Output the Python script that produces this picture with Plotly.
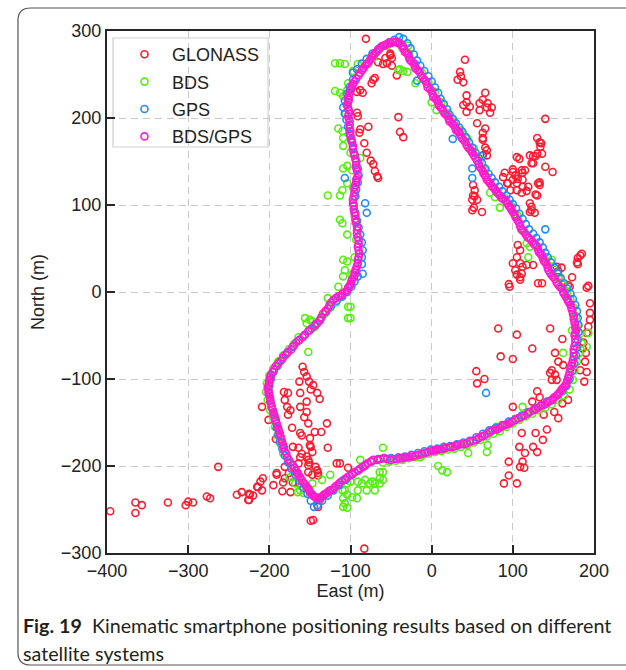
import plotly.graph_objects as go

# ---- positioning results, East/North in metres ----
glonass_en = [
    (-81, 291), (-66, 264), (-60, 262), (-57, 269), (-51, 272), (-49, 269), (-43, 249), (-51, 274),
    (-55, 263), (-49, 260), (-70, 246), (-74, 240), (-72, 244), (-85, 229), (-88, 232), (-92, 230),
    (-92, 206), (-91, 202), (-88, 187), (-89, 183), (-78, 190), (-83, 171), (-80, 160), (-75, 151),
    (-72, 147), (-70, 139), (-67, 133), (-66, 131), (-41, 201), (-39, 184), (-35, 178),
    (41, 267), (35, 253), (36, 248), (32, 244), (39, 241), (43, 226), (43, 218), (39, 215), (47, 213),
    (43, 207), (66, 229), (63, 221), (59, 217), (69, 217), (68, 212), (59, 209), (74, 212), (72, 206),
    (56, 194), (66, 188), (63, 183), (63, 177), (68, 163), (63, 157), (63, 175), (66, 166), (68, 157),
    (140, 199), (130, 177), (133, 172), (134, 167), (125, 156), (128, 156), (136, 159), (125, 148),
    (140, 144), (149, 138), (133, 126), (133, 123), (128, 112), (105, 155), (108, 153), (121, 157),
    (130, 159), (135, 171), (123, 148), (115, 140), (100, 141), (111, 140), (90, 137), (88, 132),
    (100, 129), (93, 125), (105, 125), (112, 121), (105, 117), (111, 114), (119, 121), (117, 116),
    (97, 117), (94, 125), (112, 129), (112, 137), (106, 130), (103, 134), (100, 138), (131, 125),
    (130, 111), (121, 102), (123, 98), (121, 92), (127, 91), (123, 94),
    (51, 123), (53, 117), (51, 111), (53, 110), (50, 106), (56, 106), (50, 94), (52, 97), (62, 92),
    (106, 54), (109, 48), (105, 40), (100, 33), (109, 33), (112, 29), (103, 25), (105, 20), (109, 17),
    (111, 21), (109, 14), (125, 31), (117, 31), (96, 6), (95, 9), (131, 10), (136, 10),
    (183, 42), (180, 39), (179, 34), (185, 44), (180, 32), (173, 17), (170, 6), (168, 8), (160, 28),
    (154, 29), (156, 24), (156, 17), (191, 5), (193, 7), (195, -13), (195, -24), (195, -32),
    (82, -42), (105, -49), (146, -42), (124, -65), (85, -74), (100, -77), (55, -91), (56, -105),
    (65, -100), (161, -54), (152, -70), (156, -80), (162, -84), (148, -90), (146, -93), (152, -95),
    (148, -101), (154, -101), (130, -114), (124, -126), (133, -121), (100, -132), (138, -141),
    (151, -138), (156, -145), (161, -128), (168, -124), (111, -162), (128, -162), (142, -158),
    (137, -170), (125, -178), (130, -184), (115, -185), (108, -178), (95, -195), (112, -195),
    (109, -201), (114, -202), (95, -211), (89, -220), (105, -220), (191, -47), (189, -80), (191, -92),
    (188, -103), (183, -90), (186, -65), (190, -70), (187, -58), (193, -40),
    (-396, -252), (-365, -242), (-365, -254), (-357, -245), (-325, -242), (-303, -245), (-300, -241),
    (-294, -242), (-277, -235), (-273, -237), (-263, -201), (-240, -233), (-234, -230), (-225, -232),
    (-225, -239), (-220, -234), (-214, -224), (-211, -218), (-208, -214), (-195, -222), (-191, -210),
    (-184, -229), (-209, -132), (-201, -147), (-192, -169), (-182, -115), (-177, -116), (-181, -124),
    (-178, -132), (-174, -136), (-177, -141), (-162, -116), (-163, -103), (-157, -92), (-154, -97),
    (-159, -86), (-151, -103), (-149, -112), (-146, -107), (-141, -116), (-138, -123), (-162, -132),
    (-154, -126), (-154, -138), (-157, -144), (-172, -156), (-162, -162), (-152, -151), (-160, -165),
    (-150, -168), (-144, -161), (-136, -161), (-129, -151), (-128, -179), (-149, -178), (-147, -184),
    (-164, -179), (-171, -178), (-162, -190), (-152, -193), (-151, -196), (-152, -199), (-143, -201),
    (-141, -205), (-140, -208), (-147, -210), (-176, -208), (-181, -214), (-171, -219), (-163, -220),
    (-174, -230), (-117, -197), (-113, -197), (-103, -202), (-149, -263), (-146, -262), (-83, -295),
    (-140, -247), (-138, -239), (-150, -176), (-160, -186), (-154, -189), (-172, -199), (-164, -197),
    (-152, -207), (-166, -208), (-181, -201), (-191, -208), (-183, -219), (-209, -228), (-215, -224),
    (-224, -233), (-226, -239), (-140, -211),
]

bds_en = [
    (-29, 283), (-55, 283), (-72, 269), (-78, 262), (-86, 263), (-91, 262), (-97, 254), (-107, 262),
    (-113, 263), (-119, 263), (-39, 256), (-35, 254), (-41, 255), (-30, 253), (-20, 240), (0, 218),
    (6, 209), (-119, 231), (-113, 229), (-109, 225), (-104, 232), (-103, 240),
    (-36, 280), (-28, 274), (-20, 262), (-12, 252), (-4, 241), (4, 230), (12, 218), (20, 206),
    (28, 196), (36, 186), (44, 176), (52, 165), (60, 152), (66, 140), (72, 114), (78, 109), (84, 97),
    (72, 125), (90, 108), (98, 99), (106, 88), (111, 71), (117, 56), (121, 52), (119, 40), (126, 56),
    (134, 44), (140, 36), (148, 37), (150, 26), (156, 16), (162, 8), (167, 0), (171, -8), (175, -18),
    (178, -28), (180, -38), (183, -48), (185, -59), (191, -63), (193, -47), (173, -44), (182, -70),
    (179, -80), (176, -90), (174, -101), (162, -70), (170, -112), (163, -119), (156, -124),
    (148, -129), (140, -133), (132, -136), (124, -140), (112, -132), (116, -143), (108, -147),
    (100, -151), (92, -155), (80, -155), (84, -160), (76, -163), (68, -166), (69, -176), (68, -184),
    (60, -170), (52, -173), (45, -185), (44, -176), (36, -178), (28, -180), (20, -181), (19, -207),
    (13, -205), (8, -200), (12, -183), (4, -184), (-4, -186), (-12, -188), (-14, -190), (-20, -190),
    (-28, -191), (-36, -193), (-44, -194), (-52, -195), (-60, -179), (-60, -196), (-60, -207),
    (-64, -207), (-60, -216), (-64, -214), (-64, -220), (-70, -220), (-70, -228), (-73, -218),
    (-76, -220), (-80, -228), (-82, -216), (-86, -220), (-88, -193), (-91, -218), (-91, -228),
    (-92, -237), (-98, -236), (-100, -218), (-104, -220), (-104, -233), (-107, -228), (-107, -243),
    (-104, -248), (-109, -237), (-109, -247), (-110, -228), (-125, -210), (-135, -216), (-147, -220),
    (-158, -231), (-162, -228), (-165, -230), (-168, -220), (-175, -213), (-183, -185), (-172, -200),
    (-186, -175), (-190, -165), (-193, -155), (-195, -144), (-199, -136), (-202, -124), (-204, -115),
    (-203, -105), (-200, -96), (-195, -88), (-189, -80), (-183, -73), (-152, -69), (-176, -66),
    (-170, -60), (-164, -52), (-156, -30), (-154, -36), (-150, -32), (-147, -34), (-144, -40),
    (-138, -32), (-132, -25), (-128, -7), (-125, -18), (-118, -12), (-115, 6), (-112, -6),
    (-103, -17), (-103, -30), (-100, -17), (-100, -30), (-109, 18), (-107, 25), (-104, 35),
    (-109, 37), (-104, 66), (-110, 79), (-113, 83), (-128, 111), (-113, 111), (-110, 117),
    (-104, 145), (-109, 142), (-88, 154), (-109, 168), (-109, 177), (-110, 185), (-115, 188),
    (-100, 160), (-98, 140), (-97, 120), (-96, 100), (-94, 80), (-93, 60), (-95, 40), (-98, 20),
    (-104, 125), (-106, 205), (-105, 215),
]

gps_en = [
    (-40, 293), (-35, 291), (-30, 286), (-26, 280), (-22, 273), (-18, 266), (-14, 260), (-9, 254),
    (-4, 248), (0, 242), (4, 235), (8, 229), (11, 222), (15, 216), (19, 210), (22, 204), (26, 199),
    (30, 194), (34, 189), (38, 184), (42, 178), (46, 172), (50, 166), (54, 160), (58, 154), (62, 148),
    (66, 142), (70, 136), (74, 131), (78, 126), (83, 121), (87, 116), (92, 111), (96, 106), (100, 101),
    (104, 96), (108, 90), (112, 84), (116, 78), (120, 72), (125, 67), (129, 62), (133, 57), (137, 51),
    (140, 45), (143, 40), (147, 34), (151, 28), (155, 22), (159, 16), (163, 10), (167, 4), (171, -2),
    (174, -8), (177, -15), (179, -22), (180, -30), (181, -38), (181, -46), (180, -55), (179, -64),
    (178, -73), (176, -82), (173, -91), (170, -100), (166, -108), (161, -114), (155, -119),
    (149, -123), (142, -126), (135, -130), (127, -134), (119, -138), (111, -142), (103, -146),
    (95, -149), (87, -153), (79, -156), (71, -159), (63, -163), (55, -167), (47, -171), (39, -173),
    (31, -175), (23, -177), (15, -178), (7, -180), (-1, -181), (-9, -183), (-17, -185), (-25, -187),
    (-33, -189), (-41, -190), (-50, -191), (-58, -191), (-66, -192), (-74, -195), (-82, -200),
    (-90, -205), (-98, -210), (-106, -216), (-114, -222), (-121, -228), (-128, -234), (-135, -240),
    (-141, -245), (-145, -247), (-149, -240), (-153, -232), (-158, -225), (-163, -217), (-168, -210),
    (-173, -203), (-177, -196), (-181, -188), (-184, -180), (-187, -172), (-189, -164), (-191, -156),
    (-193, -148), (-195, -140), (-197, -132), (-199, -124), (-200, -116), (-200, -108), (-198, -100),
    (-195, -92), (-190, -85), (-184, -77), (-178, -70), (-171, -63), (-164, -56), (-157, -50),
    (-150, -44), (-143, -37), (-136, -30), (-130, -23), (-124, -16), (-117, -10), (-110, -5),
    (-104, 0), (-99, 6), (-95, 12), (-91, 18), (-85, 21), (-86, 32), (-86, 40), (-85, 48), (-86, 57),
    (-88, 66), (-90, 74), (-92, 82), (-94, 91), (-80, 91), (-82, 102), (-94, 110), (-93, 118),
    (-91, 126), (-107, 131), (-90, 134), (-91, 142), (-93, 150), (-95, 158), (-97, 166), (-99, 174),
    (-101, 182), (-103, 190), (-105, 198), (-107, 205), (-109, 212), (-107, 220), (-104, 228),
    (-101, 236), (-97, 244), (-97, 252), (-92, 256), (-86, 262), (-80, 268), (-73, 274), (-66, 279),
    (-59, 283), (-52, 287), (-46, 290),
    (67, -116), (140, 72), (50, 131), (50, 142), (62, 156), (26, 176), (-18, 243),
]

bds_gps_en = [
    (-45, 287), (-41, 286), (-37, 283), (-34, 279), (-31, 275), (-28, 270), (-25, 265), (-21, 260),
    (-17, 255), (-13, 249), (-9, 244), (-6, 239), (-2, 233), (1, 228), (5, 222), (8, 217), (11, 212),
    (14, 208), (18, 204), (21, 199), (25, 194), (29, 189), (32, 185), (35, 181), (39, 175), (43, 169),
    (47, 164), (50, 160), (54, 154), (58, 147), (61, 142), (63, 139), (66, 134), (68, 129), (72, 125),
    (76, 120), (80, 115), (84, 111), (88, 107), (93, 102), (97, 97), (100, 92), (103, 87), (106, 82),
    (109, 76), (112, 71), (116, 66), (120, 62), (124, 58), (128, 54), (131, 49), (134, 44), (137, 39),
    (140, 34), (143, 28), (146, 22), (150, 17), (154, 11), (158, 6), (162, 0), (165, -5), (168, -10),
    (171, -15), (173, -21), (175, -28), (176, -35), (177, -41), (177, -47), (177, -54), (176, -62),
    (175, -70), (174, -78), (172, -85), (170, -92), (168, -99), (166, -105), (162, -110), (158, -115),
    (154, -119), (149, -124), (143, -127), (137, -130), (131, -133), (125, -136), (118, -140),
    (110, -144), (103, -147), (96, -151), (90, -153), (84, -156), (78, -158), (72, -161), (65, -165),
    (58, -168), (51, -171), (43, -174), (36, -175), (29, -177), (22, -178), (15, -180), (8, -181),
    (2, -182), (-5, -184), (-12, -186), (-20, -188), (-27, -189), (-33, -190), (-39, -191),
    (-47, -192), (-55, -192), (-63, -192), (-72, -193), (-79, -197), (-85, -201), (-91, -205),
    (-98, -209), (-104, -213), (-110, -217), (-115, -221), (-120, -225), (-125, -228), (-129, -231),
    (-133, -233), (-137, -236), (-141, -237), (-145, -235), (-148, -232), (-151, -228), (-154, -224),
    (-158, -219), (-162, -213), (-165, -208), (-169, -202), (-174, -196), (-178, -190), (-181, -183),
    (-183, -176), (-185, -170), (-187, -163), (-189, -157), (-191, -151), (-193, -144), (-195, -138),
    (-197, -132), (-199, -125), (-200, -119), (-201, -113), (-201, -107), (-200, -101), (-198, -95),
    (-194, -89), (-189, -82), (-183, -75), (-177, -69), (-170, -62), (-163, -55), (-156, -49),
    (-148, -42), (-141, -36), (-136, -29), (-131, -22), (-126, -15), (-121, -9), (-115, -5),
    (-110, -2), (-104, 2), (-101, 7), (-99, 12), (-96, 17), (-95, 22), (-93, 27), (-91, 33), (-90, 40),
    (-90, 48), (-90, 55), (-91, 63), (-92, 71), (-93, 80), (-94, 88), (-96, 95), (-97, 102),
    (-96, 110), (-95, 120), (-93, 126), (-92, 131), (-92, 140), (-93, 146), (-94, 153), (-96, 160),
    (-97, 168), (-99, 176), (-100, 185), (-101, 192), (-102, 199), (-102, 205), (-103, 212),
    (-103, 218), (-103, 223), (-101, 229), (-99, 234), (-97, 239), (-93, 245), (-88, 252), (-84, 257),
    (-80, 262), (-76, 267), (-72, 272), (-68, 276), (-64, 280), (-60, 283), (-55, 285), (-50, 286),
    # second pass of epochs along the same loop
    (-43, 288), (-39, 286), (-35, 282), (-33, 276), (-29, 273), (-27, 267), (-22, 263), (-20, 257),
    (-15, 253), (-11, 246), (-7, 242), (-5, 235), (0, 231), (2, 224), (7, 220), (9, 214), (13, 211),
    (16, 205), (20, 202), (22, 196), (27, 192), (30, 186), (34, 184), (37, 177), (41, 173), (45, 166),
    (49, 162), (52, 157), (56, 151), (59, 144), (64, 136), (67, 132), (70, 127), (74, 122), (78, 118),
    (82, 113), (86, 108), (91, 105), (95, 99), (98, 95), (102, 89), (104, 85), (108, 79), (110, 73),
    (114, 69), (118, 63), (122, 60), (126, 55), (130, 52), (132, 46), (136, 42), (138, 36), (142, 31),
    (144, 25), (148, 19), (152, 15), (156, 8), (160, 4), (163, -2), (167, -8), (169, -12), (172, -18),
    (174, -25), (175, -31), (177, -38), (178, -44), (176, -50), (177, -58), (175, -66), (175, -74),
    (173, -82), (171, -88), (169, -96), (167, -102), (164, -108), (160, -112), (156, -117),
    (151, -121), (146, -125), (140, -129), (134, -131), (128, -135), (121, -138), (114, -142),
    (107, -145), (99, -149), (93, -152), (87, -154), (81, -158), (75, -159), (68, -163), (62, -166),
    (55, -170), (47, -172), (40, -175), (32, -176), (26, -178), (18, -179), (12, -181), (5, -182),
    (-1, -183), (-8, -185), (-16, -187), (-23, -189), (-30, -190), (-36, -191), (-43, -192),
    (-51, -193), (-59, -191), (-67, -193), (-75, -195), (-82, -199), (-88, -203), (-95, -207),
    (-101, -211), (-107, -215), (-113, -219), (-118, -223), (-122, -227), (-127, -229), (-131, -232),
    (-135, -235), (-139, -237), (-143, -236), (-146, -234), (-150, -230), (-152, -226), (-156, -221),
    (-160, -216), (-164, -210), (-167, -205), (-171, -199), (-176, -193), (-179, -186), (-182, -179),
    (-184, -173), (-186, -166), (-188, -160), (-190, -154), (-192, -147), (-194, -141), (-196, -135),
    (-198, -128), (-199, -122), (-201, -116), (-202, -110), (-200, -104), (-199, -98), (-196, -92),
    (-192, -85), (-186, -79), (-180, -72), (-173, -66), (-167, -58), (-159, -52), (-152, -45),
    (-144, -39), (-138, -33), (-134, -25), (-128, -19), (-124, -12), (-118, -7), (-112, -4),
    (-107, 0), (-103, 5), (-100, 9), (-98, 15), (-95, 19), (-94, 25), (-92, 30), (-91, 37), (-89, 44),
    (-91, 52), (-90, 59), (-92, 67), (-92, 75), (-94, 84), (-95, 91), (-96, 99), (-97, 106),
    (-95, 115), (-94, 123), (-93, 129), (-91, 135), (-93, 143), (-93, 150), (-95, 157), (-97, 164),
    (-98, 172), (-100, 180), (-101, 188), (-101, 196), (-103, 202), (-102, 209), (-104, 215),
    (-102, 221), (-102, 226), (-100, 232), (-98, 237), (-95, 242), (-90, 249), (-86, 255), (-82, 260),
    (-78, 264), (-74, 270), (-70, 274), (-66, 278), (-62, 282), (-57, 284), (-52, 287), (-48, 288),
]

series_names = ["GLONASS", "BDS", "GPS", "BDS/GPS"]
series_data = [glonass_en, bds_en, gps_en, bds_gps_en]
series_colors = ["#ff1a2e", "#55ee10", "#1e8cff", "#ff1ccc"]

x_ticks = [-400, -300, -200, -100, 0, 100, 200]
y_ticks = [-300, -200, -100, 0, 100, 200, 300]

fig = go.Figure()
for name, pts, col in zip(series_names, series_data, series_colors):
    fig.add_trace(go.Scatter(
        x=[p[0] for p in pts], y=[p[1] for p in pts],
        mode="markers", name=name, legendgroup=name,
        marker=dict(symbol="circle-open", size=7, color=col, line=dict(width=1.6, color=col)),
    ))

axis_font = dict(family="Liberation Sans", size=18, color="#222222")
common_axis = dict(
    showline=True, linecolor="#262626", linewidth=2, mirror=True,
    ticks="inside", ticklen=8, tickwidth=2, tickcolor="#262626",
    showgrid=True, gridcolor="#c9c9c9", gridwidth=1.3, griddash="7px,5px",
    zeroline=False, tickfont=axis_font,
)

fig.update_xaxes(range=[-400, 200], tickvals=x_ticks,
                 title=dict(text="East (m)", font=axis_font, standoff=5), **common_axis)
fig.update_yaxes(range=[-300, 300], tickvals=y_ticks,
                 title=dict(text="North (m)", font=axis_font, standoff=12), **common_axis)

# legend panel behind the legend entries
fig.add_shape(type="rect", xref="paper", yref="paper", x0=0.0123, x1=0.3306, y0=0.7778, y1=0.9866,
              fillcolor="white", line=dict(color="#cfcfcf", width=1.2), layer="between")

# rounded outer frame around figure and caption
fx0, fx1 = -0.1828, 1.10
fy0, fy1 = -0.2146, 1.0441
rx, ry = 0.026, 0.024
frame_path = (f"M {fx1},{fy1} L {fx0 + rx},{fy1} Q {fx0},{fy1} {fx0},{fy1 - ry} "
              f"L {fx0},{fy0 + ry} Q {fx0},{fy0} {fx0 + rx},{fy0} L {fx1},{fy0}")
fig.add_shape(type="path", path=frame_path, xref="paper", yref="paper",
              line=dict(color="#555555", width=1.2), layer="above")

cap_font = dict(family="Lato, Noto Sans, sans-serif", size=19.7, color="#231f20")
fig.add_annotation(xref="paper", yref="paper", x=-0.176, y=-0.138, xanchor="left", yanchor="middle",
                   showarrow=False, font=cap_font,
                   text="<b>Fig. 19</b>  Kinematic smartphone positioning results based on different")
fig.add_annotation(xref="paper", yref="paper", x=-0.176, y=-0.192, xanchor="left", yanchor="middle",
                   showarrow=False, font=cap_font, text="satellite systems")

fig.update_layout(
    width=626, height=670,
    margin=dict(l=107, r=32, t=31, b=117),
    paper_bgcolor="white", plot_bgcolor="white",
    legend=dict(x=0.0205, y=0.9904, xanchor="left", yanchor="top",
                bgcolor="rgba(0,0,0,0)", borderwidth=0, tracegroupgap=1,
                font=dict(family="Liberation Sans", size=18, color="#222222"),
                itemwidth=45),
    showlegend=True,
)

fig.write_html("out.html")
